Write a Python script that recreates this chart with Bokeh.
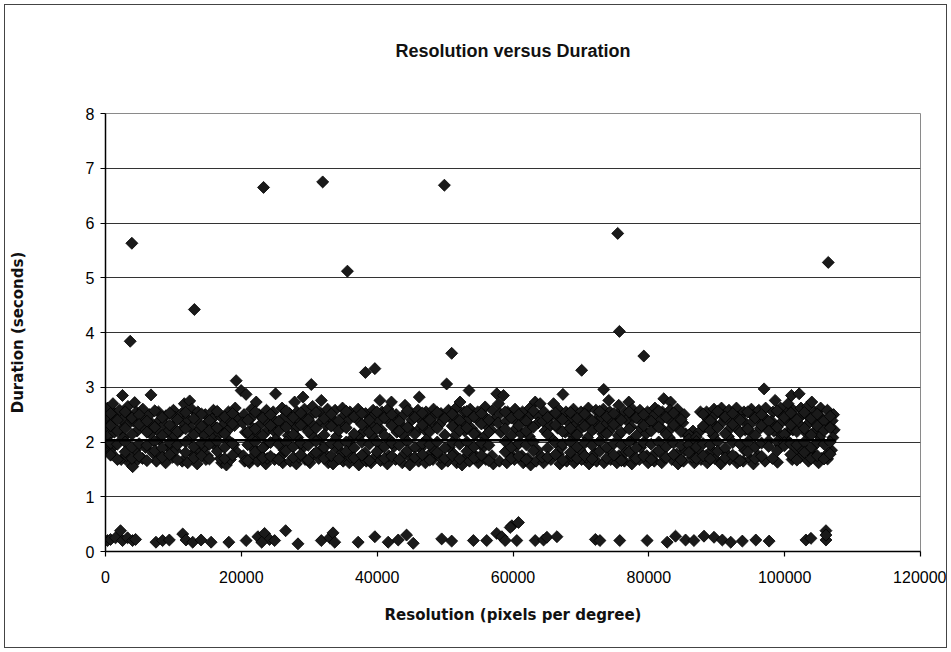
import math
from bokeh.plotting import figure
from bokeh.models import ColumnDataSource, Range1d, FixedTicker, NumeralTickFormatter, Title
from bokeh.embed import file_html
from bokeh.resources import INLINE

# ---- data ----
chart_title = "Resolution versus Duration"
x_ticks = [0, 20000, 40000, 60000, 80000, 100000, 120000]
y_ticks = [0, 1, 2, 3, 4, 5, 6, 7, 8]

# main band of points (duration ~1.5 - 3.1 s)
band_x = [
    300, 550, 150, 450, 200, 650,
    1100, 1350, 950, 1300, 1200, 850,
    2500, 2100, 2400, 2200, 2650, 2300,
    3300, 3600, 3150, 3500, 3100,
    4300, 4550, 4150, 4650, 4000, 4750, 4400,
    5500, 5300, 5700, 5450, 5900,
    6700, 6500, 6900, 6600, 7000,
    7800, 8050, 7650, 7900, 7500, 8100,
    8900, 8700, 9100, 8850, 9200,
    10000, 10250, 9800, 10100, 9900, 10300,
    11600, 11200, 11400, 11000, 11300,
    12400, 12700, 12200, 12550, 12300, 12800, 12100,
    13600, 13400, 13800, 13500, 13900,
    14700, 14950, 14500, 14800, 14600, 15000,
    15900, 15700, 16100, 15800, 16000,
    17000, 17250, 16800, 17100, 16900,
    18100, 18350, 17900, 18200, 17800, 18400,
    19240, 19100, 19400, 19000, 19300, 18900,
    19970, 20700, 20400, 20200, 20600, 20300, 20500,
    21500, 21300, 21700, 21450, 21200, 21600, 21800,
    22190, 22600, 22800, 22500, 22400, 22700,
    23700, 23500, 23900, 23600, 23800, 23400,
    25040, 24700, 25000, 24800, 25100, 24900,
    26000, 26250, 25800, 26100, 25900, 26300,
    27850, 27100, 27300, 26900, 27200,
    28200, 28400, 28000, 28300, 28100, 28500,
    29080, 29300, 29500, 29200, 29400, 29100,
    30300, 30500, 30200, 30600, 30400, 30100, 30700,
    31780, 31500, 31800, 31600, 31400, 31700,
    32700, 32900, 32500, 32800, 32600,
    33800, 33600, 34000, 33700, 33900, 33500,
    34900, 35100, 34700, 35000, 34800,
    36000, 35800, 36200, 35900, 36100, 36300,
    37200, 37000, 37400, 37100, 37300,
    38300, 38500, 38100, 38400, 38200,
    39400, 39200, 39600, 39300, 39500, 39100,
    40400, 40700, 40300, 40600, 40500, 40200,
    41600, 41400, 41800, 41500, 41700,
    42100, 42800, 42600, 42900, 42700, 42500,
    44100, 43800, 43600, 43900, 43700, 44000,
    44900, 45100, 44700, 45000, 44800,
    46200, 46000, 46300, 45900, 46100, 46400,
    47200, 47400, 47000, 47300, 47100, 47500,
    48300, 48100, 48500, 48200, 48400,
    49400, 49600, 49200, 49500, 49300,
    50230, 50500, 50700, 50400, 50600,
    51600, 51400, 51800, 51500, 51700, 51300,
    52200, 52800, 52600, 52900, 52700, 52500,
    53530, 53700, 53500, 53900, 53600, 53800,
    54800, 55000, 54600, 54900, 54700,
    55900, 55700, 56100, 55800, 56000, 55600,
    57000, 57200, 56800, 57100, 56900,
    57610, 57900, 58100, 57800, 58200, 58000,
    58600, 59200, 59000, 59300, 59100, 59400,
    60300, 60100, 60500, 60200, 60400,
    61400, 61600, 61200, 61500, 61300,
    62500, 62300, 62700, 62400, 62600, 62200,
    63270, 63500, 63700, 63400, 63600,
    64000, 64600, 64400, 64700, 64500, 64300,
    65970, 65700, 65500, 65800, 65600,
    66800, 67000, 66600, 66900, 66700, 67100,
    67350, 67800, 68000, 67700, 67900,
    68900, 68700, 69100, 68800, 69000, 68600,
    70000, 70200, 69800, 70100, 69900,
    71100, 70900, 71300, 71000, 71200, 70800,
    72200, 72400, 72000, 72300, 72100,
    73360, 73300, 73100, 73500, 73200, 73400,
    74100, 74300, 74500, 74200, 74400, 74000,
    75570, 75400, 75200, 75500, 75300, 75600,
    77050, 76500, 76700, 76400, 76600,
    77600, 77800, 77400, 77700, 77500, 77900,
    78700, 78500, 78900, 78600, 78800,
    79800, 80000, 79600, 79900, 79700,
    80900, 80700, 81100, 80800, 81000,
    82200, 82000, 81800, 82100, 81900, 82300,
    83200, 83100, 82900, 83300, 83000, 83400,
    84200, 84400, 84000, 84300, 84100,
    85200, 85000, 85400, 85100, 85300,
    86500, 86300, 86700, 86400, 86600,
    87600, 87400, 87700, 87500,
    88500, 88700, 88300, 88600, 88400,
    89600, 89400, 89800, 89500, 89700, 89300,
    90700, 90900, 90500, 90800, 90600,
    91800, 91600, 92000, 91700, 91900, 91500,
    92900, 93100, 92700, 93000, 92800,
    94000, 93800, 94200, 93900, 94100,
    95100, 95300, 94900, 95200, 95000, 95400,
    96200, 96000, 96400, 96100,
    96970, 97200, 97000, 97300, 97100,
    98600, 98300, 98100, 98400, 98940, 98200,
    99400, 99600, 99200, 99500, 99300,
    100500, 100300, 100700, 100400, 100600,
    101000, 101300, 101500, 101200, 101400, 101100,
    102140, 102400, 102200, 102500, 102300, 102600,
    103400, 103200, 103600, 103300, 103380, 103500,
    104000, 104400, 104200, 104500, 104300, 104100,
    105300, 105100, 105500, 105200, 105400, 105000,
    106300, 106500, 106100, 106320, 106400,
    107200, 107000, 107300, 107100, 106900,
]
band_y = [
    2.62, 2.45, 2.28, 2.12, 1.88, 1.95,
    2.70, 2.52, 2.35, 2.18, 1.92, 1.80,
    2.85, 2.58, 2.40, 2.22, 2.08, 1.68,
    2.65, 2.48, 2.30, 1.62, 1.75,
    2.72, 2.55, 2.38, 2.20, 1.55, 1.68, 1.85,
    2.60, 2.42, 2.25, 1.70, 1.90,
    2.86, 2.50, 2.33, 2.15, 1.80,
    2.55, 2.40, 2.22, 2.05, 1.65, 1.78,
    2.48, 2.32, 2.18, 1.62, 1.90,
    2.58, 2.45, 2.28, 2.10, 1.72, 1.85,
    2.70, 2.52, 2.36, 2.20, 1.65,
    2.75, 2.60, 2.40, 2.25, 2.05, 1.78, 1.62,
    2.55, 2.38, 2.22, 1.60, 1.85,
    2.50, 2.35, 2.12, 1.68, 1.90, 1.75,
    2.58, 2.42, 2.28, 2.08, 1.95,
    2.46, 2.30, 2.15, 1.62, 1.70,
    2.55, 2.38, 2.20, 2.02, 1.58, 1.68,
    3.12, 2.62, 2.45, 2.30, 1.82, 1.95,
    2.94, 2.87, 2.50, 2.35, 2.18, 1.75, 1.65,
    2.60, 2.42, 2.25, 2.08, 1.62, 1.72, 1.88,
    2.73, 2.50, 2.32, 2.15, 1.65, 1.78,
    2.58, 2.40, 2.22, 1.60, 1.70, 1.92,
    2.88, 2.55, 2.38, 2.20, 2.05, 1.68,
    2.62, 2.45, 2.28, 1.62, 1.75, 1.85,
    2.73, 2.52, 2.35, 2.12, 1.65,
    2.55, 2.40, 2.25, 2.08, 1.60, 1.72,
    2.82, 2.60, 2.42, 2.30, 1.68, 1.90,
    3.05, 2.65, 2.48, 2.30, 2.12, 1.62, 1.78,
    2.76, 2.55, 2.38, 2.05, 1.70, 1.85,
    2.60, 2.45, 2.30, 1.62, 1.75,
    2.58, 2.40, 2.10, 1.68, 1.90, 1.60,
    2.62, 2.48, 2.32, 1.65, 1.80,
    2.55, 2.40, 2.05, 1.62, 1.72, 1.88,
    2.60, 2.42, 2.12, 1.68, 1.58,
    2.52, 2.35, 2.20, 1.65, 1.80,
    2.58, 2.45, 2.28, 2.10, 1.70, 1.62,
    2.76, 2.55, 2.38, 2.22, 1.66, 1.85,
    2.60, 2.42, 2.05, 1.60, 1.75,
    2.73, 2.50, 2.35, 2.18, 1.68, 1.92,
    2.67, 2.48, 2.30, 2.12, 1.62, 1.78,
    2.55, 2.40, 2.25, 1.70, 1.58,
    2.82, 2.58, 2.42, 2.20, 1.65, 1.88,
    2.55, 2.38, 2.22, 2.05, 1.62, 1.75,
    2.60, 2.45, 2.30, 1.68, 1.85,
    2.52, 2.40, 2.32, 1.60, 1.72,
    3.06, 2.58, 2.45, 1.65, 1.90,
    2.62, 2.48, 2.30, 2.12, 1.62, 1.78,
    2.73, 2.55, 2.38, 2.20, 1.68, 1.58,
    2.94, 2.60, 2.42, 2.25, 1.65, 1.82,
    2.55, 2.38, 2.15, 1.62, 1.72,
    2.64, 2.48, 2.30, 2.10, 1.68, 1.90,
    2.58, 2.40, 2.22, 1.60, 1.75,
    2.88, 2.70, 2.52, 2.35, 2.18, 1.65,
    2.85, 2.55, 2.38, 2.05, 1.62, 1.80,
    2.60, 2.42, 2.25, 1.68, 1.92,
    2.55, 2.40, 2.15, 1.62, 1.75,
    2.62, 2.45, 2.28, 2.10, 1.58, 1.70,
    2.73, 2.50, 2.35, 1.65, 1.85,
    2.70, 2.55, 2.38, 2.20, 1.62, 1.72,
    2.70, 2.48, 2.30, 2.05, 1.68,
    2.58, 2.42, 2.25, 1.60, 1.78, 1.90,
    2.87, 2.55, 2.38, 2.18, 1.65,
    2.60, 2.45, 2.30, 2.12, 1.62, 1.75,
    2.55, 2.40, 2.22, 1.68, 1.85,
    2.62, 2.48, 2.32, 2.08, 1.60, 1.72,
    2.58, 2.42, 2.25, 1.65, 1.80,
    2.96, 2.60, 2.45, 2.30, 2.15, 1.62,
    2.76, 2.55, 2.38, 2.20, 1.68, 1.88,
    2.67, 2.50, 2.32, 2.12, 1.62, 1.75,
    2.73, 2.55, 2.40, 1.65, 1.82,
    2.60, 2.45, 2.28, 2.05, 1.60, 1.70,
    2.58, 2.42, 2.25, 1.68, 1.90,
    2.55, 2.38, 2.15, 1.62, 1.75,
    2.62, 2.48, 2.30, 1.65, 1.80,
    2.79, 2.55, 2.40, 2.22, 1.62, 1.72,
    2.73, 2.58, 2.42, 2.25, 2.08, 1.68,
    2.60, 2.45, 2.30, 1.60, 1.78,
    2.50, 2.35, 2.15, 1.65, 1.85,
    2.20, 2.08, 1.62, 1.72, 1.90,
    2.55, 2.18, 1.68, 1.80,
    2.55, 2.42, 2.28, 1.62, 1.75,
    2.60, 2.45, 2.30, 2.12, 1.70, 1.85,
    2.62, 2.48, 2.32, 1.65, 1.60,
    2.58, 2.40, 2.25, 2.10, 1.68, 1.78,
    2.62, 2.45, 2.28, 1.62, 1.72,
    2.55, 2.40, 2.22, 1.65, 1.85,
    2.60, 2.48, 2.32, 2.15, 1.68, 1.60,
    2.58, 2.42, 2.25, 1.75,
    2.97, 2.62, 2.45, 2.30, 1.65,
    2.76, 2.55, 2.38, 2.20, 1.63, 1.70,
    2.62, 2.48, 2.32, 2.12, 1.95,
    2.70, 2.52, 2.35, 2.18, 2.00,
    2.85, 2.58, 2.40, 2.22, 1.80, 1.68,
    2.88, 2.62, 2.45, 2.28, 1.72, 1.85,
    2.65, 2.50, 2.35, 2.15, 1.84, 1.65,
    2.73, 2.55, 2.40, 2.20, 1.75, 1.90,
    2.62, 2.48, 2.30, 2.10, 1.70, 1.62,
    2.58, 2.42, 2.25, 1.69, 1.80,
    2.50, 2.39, 2.22, 2.08, 1.85,
]

# more points of the band, between the columns above (4 per position)
fill_x = [750, 1750, 2900, 3900, 4950, 6100, 7250, 8350, 9450, 10600,
          11800, 13000, 14150, 15300, 16450, 17550, 18700, 20950, 22050, 23150,
          24300, 25500, 26600, 27650, 28750, 29850, 31000, 32200, 33250, 34350,
          35450, 36600, 37750, 38850, 39950, 41050, 42150, 43250, 44450, 45550,
          46650, 47750, 48850, 49950, 51050, 52150, 53200, 54250, 55350, 56450,
          58850, 59750, 60850, 61950, 63000, 65100, 66250, 67300, 68450, 69450,
          70550, 71650, 72750, 73800, 74850, 75950, 77100, 78150, 79250, 80350,
          81450, 82550, 83650, 84750, 85900, 87000, 88000, 89050, 90150, 91250,
          92350, 93450, 94550, 95650, 96600, 97650, 98900, 99950, 100900, 101800,
          102900, 103900, 104800, 105800, 106700]
fill_y = [
    [2.52, 2.30, 1.98, 1.76], [2.40, 2.20, 1.96, 1.68], [2.55, 2.25, 2.00, 1.82], [2.44, 2.14, 1.90, 1.70],
    [2.50, 2.32, 1.97, 1.74], [2.38, 2.18, 1.94, 1.66], [2.57, 2.27, 2.01, 1.84], [2.45, 2.12, 1.89, 1.72],
    [2.53, 2.31, 1.99, 1.77], [2.41, 2.19, 1.95, 1.67], [2.54, 2.24, 2.00, 1.81], [2.43, 2.13, 1.91, 1.71],
    [2.51, 2.29, 1.98, 1.75], [2.39, 2.21, 1.96, 1.69], [2.56, 2.26, 2.01, 1.83], [2.46, 2.15, 1.90, 1.70],
    [2.52, 2.33, 1.97, 1.76], [2.40, 2.18, 1.95, 1.66], [2.55, 2.24, 2.00, 1.82], [2.44, 2.12, 1.89, 1.71],
    [2.50, 2.30, 1.99, 1.74], [2.38, 2.20, 1.96, 1.68], [2.57, 2.27, 2.00, 1.84], [2.45, 2.14, 1.91, 1.72],
    [2.53, 2.31, 1.98, 1.77], [2.41, 2.19, 1.94, 1.67], [2.54, 2.25, 2.01, 1.81], [2.43, 2.13, 1.90, 1.70],
    [2.51, 2.29, 1.97, 1.75], [2.39, 2.21, 1.95, 1.69], [2.56, 2.26, 2.00, 1.83], [2.46, 2.15, 1.89, 1.71],
    [2.52, 2.32, 1.99, 1.76], [2.40, 2.18, 1.96, 1.66], [2.55, 2.24, 2.00, 1.82], [2.44, 2.12, 1.91, 1.70],
    [2.50, 2.30, 1.98, 1.74], [2.38, 2.20, 1.94, 1.68], [2.57, 2.27, 2.01, 1.84], [2.45, 2.14, 1.90, 1.72],
    [2.53, 2.31, 1.97, 1.77], [2.41, 2.19, 1.95, 1.67], [2.54, 2.25, 2.00, 1.81], [2.43, 2.13, 1.89, 1.70],
    [2.51, 2.29, 1.99, 1.75], [2.39, 2.21, 1.96, 1.69], [2.56, 2.26, 2.00, 1.83], [2.46, 2.15, 1.91, 1.71],
    [2.52, 2.33, 1.98, 1.76], [2.40, 2.18, 1.94, 1.66],
    [2.55, 2.24, 2.01, 1.82], [2.44, 2.12, 1.90, 1.70], [2.50, 2.30, 1.97, 1.74], [2.38, 2.20, 1.95, 1.68],
    [2.57, 2.27, 2.00, 1.84], [2.45, 2.14, 1.89, 1.72], [2.53, 2.31, 1.99, 1.77], [2.41, 2.19, 1.96, 1.67],
    [2.54, 2.25, 2.00, 1.81], [2.43, 2.13, 1.91, 1.70], [2.51, 2.29, 1.98, 1.75], [2.39, 2.21, 1.94, 1.69],
    [2.56, 2.26, 2.01, 1.83], [2.46, 2.15, 1.90, 1.71], [2.52, 2.32, 1.97, 1.76], [2.40, 2.18, 1.95, 1.66],
    [2.55, 2.24, 2.00, 1.82], [2.44, 2.12, 1.89, 1.70], [2.50, 2.30, 1.99, 1.74], [2.38, 2.20, 1.96, 1.68],
    [2.57, 2.27, 2.00, 1.84], [2.45, 2.14, 1.91, 1.72], [2.53, 2.31, 1.98, 1.77], [2.41, 2.19, 1.94, 1.67],
    [2.13, 2.05, 1.95, 1.81], [2.09, 2.01, 1.91, 1.70], [2.51, 2.29, 1.97, 1.75], [2.39, 2.21, 1.95, 1.69],
    [2.56, 2.26, 2.00, 1.83], [2.46, 2.15, 1.89, 1.71], [2.52, 2.32, 1.99, 1.76], [2.40, 2.18, 1.96, 1.66],
    [2.55, 2.24, 2.00, 1.82], [2.44, 2.12, 1.91, 1.70], [2.50, 2.30, 1.98, 1.74], [2.38, 2.20, 2.02, 1.92],
    [2.57, 2.27, 2.01, 1.84], [2.45, 2.14, 1.99, 1.93], [2.53, 2.31, 1.97, 1.77], [2.41, 2.19, 1.95, 1.67],
    [2.54, 2.25, 2.00, 1.81], [2.43, 2.13, 1.90, 1.70], [2.51, 2.29, 1.99, 1.75], [2.39, 2.21, 1.96, 1.69],
    [2.47, 2.26, 2.00, 1.78],
]

# isolated high values
out_x = [3880, 3640, 13090, 23270, 31980, 35620, 49900, 75420, 75670, 106420,
         38270, 39660, 50970, 70110, 79260]
out_y = [5.63, 3.84, 4.42, 6.65, 6.75, 5.12, 6.69, 5.81, 4.02, 5.28,
         3.27, 3.34, 3.62, 3.31, 3.57]

# low group (~0.2 s)
low_x = [300, 740, 1480, 2210, 2510, 3250, 3990, 4430,
         7430, 8410, 9400, 11370, 11850, 12840, 14070, 15550,
         18160, 20710, 22440, 23420, 24160, 24900, 23000, 26520,
         28340, 31780, 33010, 33500, 33750, 37200, 39660, 41620,
         43100, 44330, 45310, 49500, 50970, 54170, 56130, 57610,
         58350, 58850, 59830, 60560, 60810, 59590, 63270, 64500,
         64990, 66470, 72130, 72800, 75720, 79750, 82700, 83930,
         85410, 86640, 88120, 89600, 90820, 92060, 93770, 95750,
         97710, 103130, 103870, 106080, 106080, 106080]
low_y = [0.20, 0.22, 0.25, 0.38, 0.20, 0.25, 0.20, 0.22,
         0.17, 0.20, 0.21, 0.32, 0.21, 0.17, 0.21, 0.17,
         0.17, 0.20, 0.27, 0.33, 0.22, 0.20, 0.17, 0.38,
         0.14, 0.20, 0.25, 0.34, 0.17, 0.17, 0.27, 0.17,
         0.21, 0.30, 0.15, 0.23, 0.19, 0.20, 0.20, 0.33,
         0.27, 0.20, 0.47, 0.20, 0.53, 0.44, 0.20, 0.21,
         0.26, 0.27, 0.22, 0.20, 0.20, 0.20, 0.17, 0.28,
         0.21, 0.20, 0.28, 0.26, 0.21, 0.17, 0.19, 0.21,
         0.19, 0.21, 0.24, 0.38, 0.21, 0.30]

# linear trend line
trend_x = [0, 107500]
trend_y = [2.03, 2.03]

n = min(len(band_x), len(band_y))
xs = band_x[:n] + out_x + low_x
ys = band_y[:n] + out_y + low_y
for fx, fys in zip(fill_x, fill_y):
    for fy in fys:
        xs.append(fx)
        ys.append(fy)
src = ColumnDataSource(dict(x=xs, y=ys))

p = figure(width=943, height=644,
           x_range=Range1d(0, 120000), y_range=Range1d(0, 8),
           output_backend="svg", toolbar_location=None,
           min_border_left=98, min_border_right=28,
           min_border_top=108, min_border_bottom=98,
           background_fill_color="white", border_fill_color="white")
p.margin = (4, 0, 0, 4)
p.styles = {"border": "1px solid #444"}

# blank spacer between the plot area and the title
p.add_layout(Title(text=" ", text_font_size="17px", standoff=27), "above")

p.title.text = chart_title
p.title.align = "center"
p.title.offset = 7
p.title.text_font = "Liberation Sans"
p.title.text_font_size = "18px"
p.title.text_font_style = "bold"
p.title.text_color = "#111111"
p.title.standoff = 10

p.outline_line_color = "#8a8a8a"
p.outline_line_width = 1

p.xgrid.grid_line_color = None
p.ygrid.grid_line_color = "#333333"
p.ygrid.grid_line_width = 1

p.xaxis.ticker = FixedTicker(ticks=x_ticks)
p.yaxis.ticker = FixedTicker(ticks=y_ticks)
p.xaxis.formatter = NumeralTickFormatter(format="0")
for ax in (p.xaxis, p.yaxis):
    ax.axis_line_color = "black"
    ax.axis_line_width = 1.5
    ax.major_tick_line_color = "black"
    ax.major_tick_line_width = 1.2
    ax.major_tick_in = 0
    ax.major_tick_out = 5
    ax.minor_tick_line_color = None
    ax.major_label_text_font = "Liberation Sans"
    ax.major_label_text_font_size = "16px"
    ax.major_label_text_color = "black"
    ax.axis_label_text_font = "DejaVu Sans"
    ax.axis_label_text_font_size = "15px"
    ax.axis_label_text_font_style = "bold"
    ax.axis_label_text_color = "#111111"

p.xaxis.axis_label = "Resolution (pixels per degree)"
p.yaxis.axis_label = "Duration (seconds)"
p.xaxis.major_label_standoff = 14
p.yaxis.major_label_standoff = 6
p.xaxis.axis_label_standoff = 20
p.yaxis.axis_label_standoff = 56

p.scatter("x", "y", source=src, marker="square", angle=math.pi / 4, size=8.5,
          fill_color="#1a1a1a", line_color="black", line_width=0.8)
p.line(trend_x, trend_y, line_color="black", line_width=2.5)

open("out.html", "w").write(file_html(p, INLINE))
